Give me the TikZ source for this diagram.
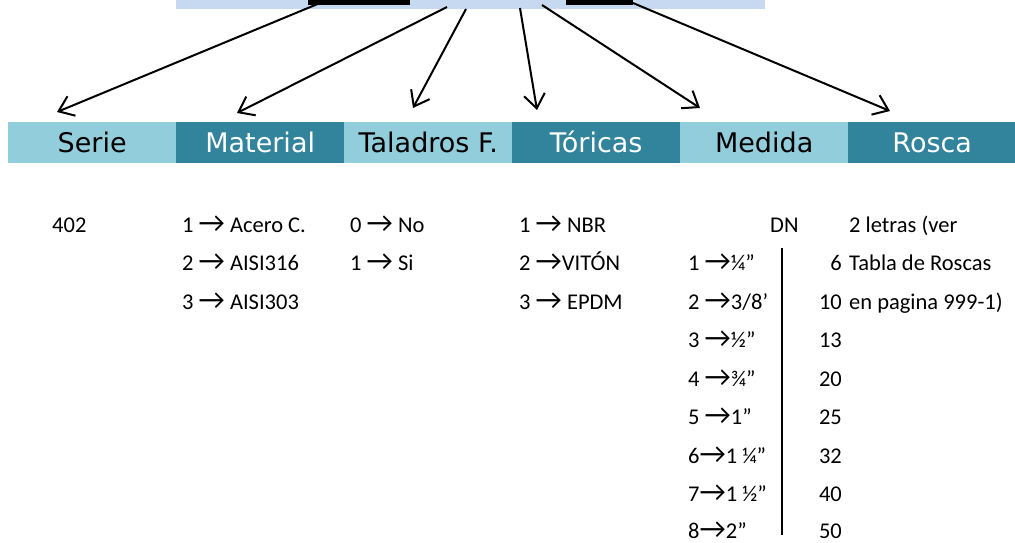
\documentclass[tikz,border=0pt]{standalone}
\usepackage{fontspec}
\setmainfont{Carlito}
\newfontfamily\hdrfont{DejaVu Sans}
\newfontfamily\arrfont{Carlito}
\usetikzlibrary{arrows.meta,calc}
\definecolor{barblue}{HTML}{C6D9F1}
\definecolor{lightaqua}{HTML}{92CDDC}
\definecolor{darkaqua}{HTML}{31849B}
\newcommand{\rarr}{{\arrfont\fontsize{29}{29}\selectfont →}}
\tikzset{
  hdr/.style={rectangle, minimum width=168pt, minimum height=41pt, inner sep=0pt,
    anchor=north west, font=\hdrfont\fontsize{27}{32}\selectfont, text height=19.5pt, text depth=0pt},
  lightcell/.style={hdr, fill=lightaqua, text=black},
  darkcell/.style={hdr, fill=darkaqua, text=white},
  txt/.style={anchor=base west, inner sep=0pt, text depth=0pt, font=\fontsize{22.5}{27}\selectfont},
  numr/.style={anchor=base east, inner sep=0pt, text depth=0pt, font=\fontsize{22.5}{27}\selectfont},
  conn/.style={line width=2pt, -{Straight Barb[length=14pt,width=21pt]}},
  blackbox/.style={rectangle, fill=black, inner sep=0pt, anchor=north west, minimum height=4.5pt}
}
\begin{document}
\begin{tikzpicture}[x=1pt,y=-1pt]
\useasboundingbox (0,0) rectangle (1015,543);
% top bar
\node[rectangle, fill=barblue, inner sep=0pt, anchor=north west, minimum width=589pt, minimum height=8.5pt] (bar) at (176,0) {};
\node[blackbox, minimum width=102pt] (bk1) at (308,0) {};
\node[blackbox, minimum width=67pt] (bk2) at (566,0) {};
% header
\node[lightcell] (serie) at (8,122) {Serie};
\node[darkcell] (material) at (176,122) {Material};
\node[lightcell] (taladros) at (344,122) {Taladros F.};
\node[darkcell] (toricas) at (512,122) {Tóricas};
\node[lightcell] (medida) at (680,122) {Medida};
\node[darkcell] (rosca) at (848,122) {Rosca};
% connector ends
\coordinate (s1) at (320,3);
\coordinate (s2) at (447,7);
\coordinate (s3) at (466,9);
\coordinate (s4) at (520,8);
\coordinate (s5) at (542,5);
\coordinate (s6) at (633,3);
\coordinate (t1) at (57,112);
\coordinate (t2) at (237,113);
\coordinate (t3) at (413,108);
\coordinate (t4) at (537,110);
\coordinate (t5) at (700,108);
\coordinate (t6) at (890,111);
\draw[conn] (s1) -- (t1);
\draw[conn] (s2) -- (t2);
\draw[conn] (s3) -- (t3);
\draw[conn] (s4) -- (t4);
\draw[conn] (s5) -- (t5);
\draw[conn] (s6) -- (t6);
% Serie
\node[txt] (se1) at (52,232) {402};
% Material
\node[txt] (ma1) at (182,232) {1 \rarr{} Acero C.};
\node[txt] (ma2) at (182,270.5) {2 \rarr{} AISI316};
\node[txt] (ma3) at (182,309) {3 \rarr{} AISI303};
% Taladros
\node[txt] (ta1) at (350,232) {0 \rarr{} No};
\node[txt] (ta2) at (350,270.5) {1 \rarr{} Si};
% Toricas
\node[txt] (to1) at (519,232) {1 \rarr{} NBR};
\node[txt] (to2) at (519,270.5) {2 \rarr{}VITÓN};
\node[txt] (to3) at (519,309) {3 \rarr{} EPDM};
% Medida
\node[txt] (dn) at (770,232) {DN};
\node[txt] (me1) at (688,270.5) {1 \rarr{}¼”};
\node[txt] (me2box) at (688,309) {\phantom{2 \rarr{}3/8”}};
\begin{scope}
\clip ($(me2box.south east)+(-5,8)$) rectangle ($(me2box.north west)+(-5,-8)$);
\node[txt] (me2) at (688,309) {2 \rarr{}3/8”};
\end{scope}
\node[txt] (me3) at (688,347.5) {3 \rarr{}½”};
\node[txt] (me4) at (688,386) {4 \rarr{}¾”};
\node[txt] (me5) at (688,424.5) {5 \rarr{}1”};
\node[txt] (me6) at (688,463) {6\rarr{}1 ¼”};
\node[txt] (me7) at (688,501.5) {7\rarr{}1 ½”};
\node[txt] (me8) at (688,538.5) {8\rarr{}2”};
\coordinate (vtop) at (782,248);
\coordinate (vbot) at (782,535);
\draw[line width=1.8pt] (vtop) -- (vbot);
\node[numr] (n1) at (842,270.5) {6};
\node[numr] (n2) at (842,309) {10};
\node[numr] (n3) at (842,347.5) {13};
\node[numr] (n4) at (842,386) {20};
\node[numr] (n5) at (842,424.5) {25};
\node[numr] (n6) at (842,463) {32};
\node[numr] (n7) at (842,501.5) {40};
\node[numr] (n8) at (842,538.5) {50};
% Rosca
\node[txt] (ro1) at (849,232) {2 letras (ver};
\node[txt] (ro2) at (849,270.5) {Tabla de Roscas};
\node[txt] (ro3) at (849,309) {en pagina 999-1)};
\end{tikzpicture}
\end{document}
